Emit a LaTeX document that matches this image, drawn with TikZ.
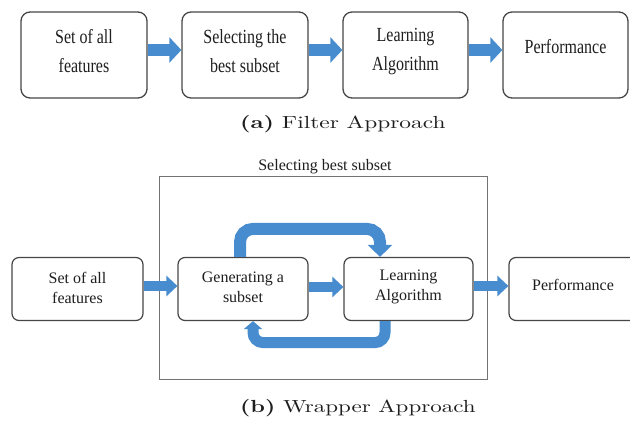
\documentclass[tikz,border=0pt]{standalone}
\usepackage{fontspec}
\usepackage{graphicx}
\usetikzlibrary{arrows.meta,calc}
\newfontfamily\boxfont{Liberation Serif}
\newfontfamily\boxfontc[FakeStretch=0.8]{Liberation Serif}
\definecolor{arrowblue}{RGB}{72,140,208}
\definecolor{boxline}{RGB}{70,70,70}
\definecolor{frameline}{RGB}{115,115,115}
\definecolor{txtcol}{RGB}{30,30,30}
\tikzset{
  topbox/.style={draw=boxline, line width=1.3pt, rounded corners=9pt, fill=white, inner sep=0pt},
  botbox/.style={draw=boxline, line width=1.2pt, rounded corners=7pt, fill=white, inner sep=0pt, minimum height=63pt},
  toptext/.style={text=txtcol, font=\boxfontc\fontsize{20}{29}\selectfont, align=center, inner sep=0pt},
  bottext/.style={text=txtcol, font=\boxfont\fontsize{16}{20}\selectfont, align=center, inner sep=0pt},
  toparrow/.style={draw=arrowblue, line width=12pt, -{Triangle[width=25pt,length=12pt]}, arrowblue},
  botarrow/.style={draw=arrowblue, line width=10pt, -{Triangle[width=20pt,length=11pt]}, arrowblue},
  looptop/.style={draw=arrowblue, line width=12pt, rounded corners=13pt, -{Triangle[width=24pt,length=12pt]}, arrowblue},
  loopbot/.style={draw=arrowblue, line width=11pt, rounded corners=10pt, -{Triangle[width=18pt,length=8pt]}, arrowblue},
  captext/.style={inner sep=0pt, anchor=west, text=txtcol}
}
\begin{document}
\begin{tikzpicture}[x=1pt,y=-1pt]
\useasboundingbox (0,0) rectangle (630,422);
\clip (0,0) rectangle (630,422);
% ---------- (a) Filter approach ----------
\node[topbox, minimum width=126pt, minimum height=86pt] (a1) at (84,55) {};
\node[topbox, minimum width=126pt, minimum height=86pt] (a2) at (245,55) {};
\node[topbox, minimum width=125pt, minimum height=86pt] (a3) at (405.5,55) {};
\node[topbox, minimum width=125pt, minimum height=86pt] (a4) at (565.5,55) {};
\node[toptext] (ta1) at (84,51.5) {Set of all\\features};
\node[toptext] (ta2) at (245,51.5) {Selecting the\\best subset};
\node[toptext] (ta3) at (405.5,51.5) {Learning\\Algorithm};
\node[toptext] (ta4) at (565.5,47) {Performance};
\draw[toparrow] ($(a1.east)+(0,-5)$) -- ($(a2.west)+(0,-5)$);
\draw[toparrow] ($(a2.east)+(0,-5)$) -- ($(a3.west)+(0,-5)$);
\draw[toparrow] ($(a3.east)+(0,-5)$) -- ($(a4.west)+(0,-5)$);
\node[captext] (capa) at (240,124) {\scalebox{2.34}[1.75]{\fontsize{10}{12}\selectfont\textbf{(a)} Filter Approach}};
% ---------- (b) Wrapper approach ----------
\node[draw=frameline, line width=1pt, minimum width=328pt, minimum height=203pt, inner sep=0pt] (frame) at (323,278.5) {};
\node[bottext] (framelab) at (325,167) {Selecting best subset};
\node[botbox, minimum width=131pt] (b1) at (77.5,289) {};
\node[botbox, minimum width=130pt] (b2) at (243,289) {};
\node[botbox, minimum width=129pt] (b3) at (408.5,289) {};
\node[botbox, minimum width=134pt] (b4) at (576,289) {};
\draw[looptop] ($(b2.north)+(-3,0)$) -- ++(0,-28) -| ($(b3.north)+(-28.5,0)$);
\draw[loopbot] ($(b3.south)+(-23.5,0)$) -- ++(0,21.5) -| ($(b2.south)+(10,0)$);
\node[bottext] (tb1) at (77.5,288) {Set of all\\features};
\node[bottext] (tb2) at (243,287) {Generating a\\subset};
\node[bottext] (tb3) at (408.5,287) {Learning\\Algorithm};
\node[bottext] (tb4) at (573,285) {Performance};
\draw[botarrow] ($(b1.east)+(0,-3)$) -- ($(b2.west)+(0,-3)$);
\draw[botarrow] ($(b2.east)+(0,-2)$) -- ($(b3.west)+(0,-2)$);
\draw[botarrow] ($(b3.east)+(0,-3)$) -- ($(b4.west)+(0,-3)$);
\node[captext] (capb) at (240,408) {\scalebox{2.3}[1.75]{\fontsize{10}{12}\selectfont\textbf{(b)} Wrapper Approach}};
\end{tikzpicture}
\end{document}
